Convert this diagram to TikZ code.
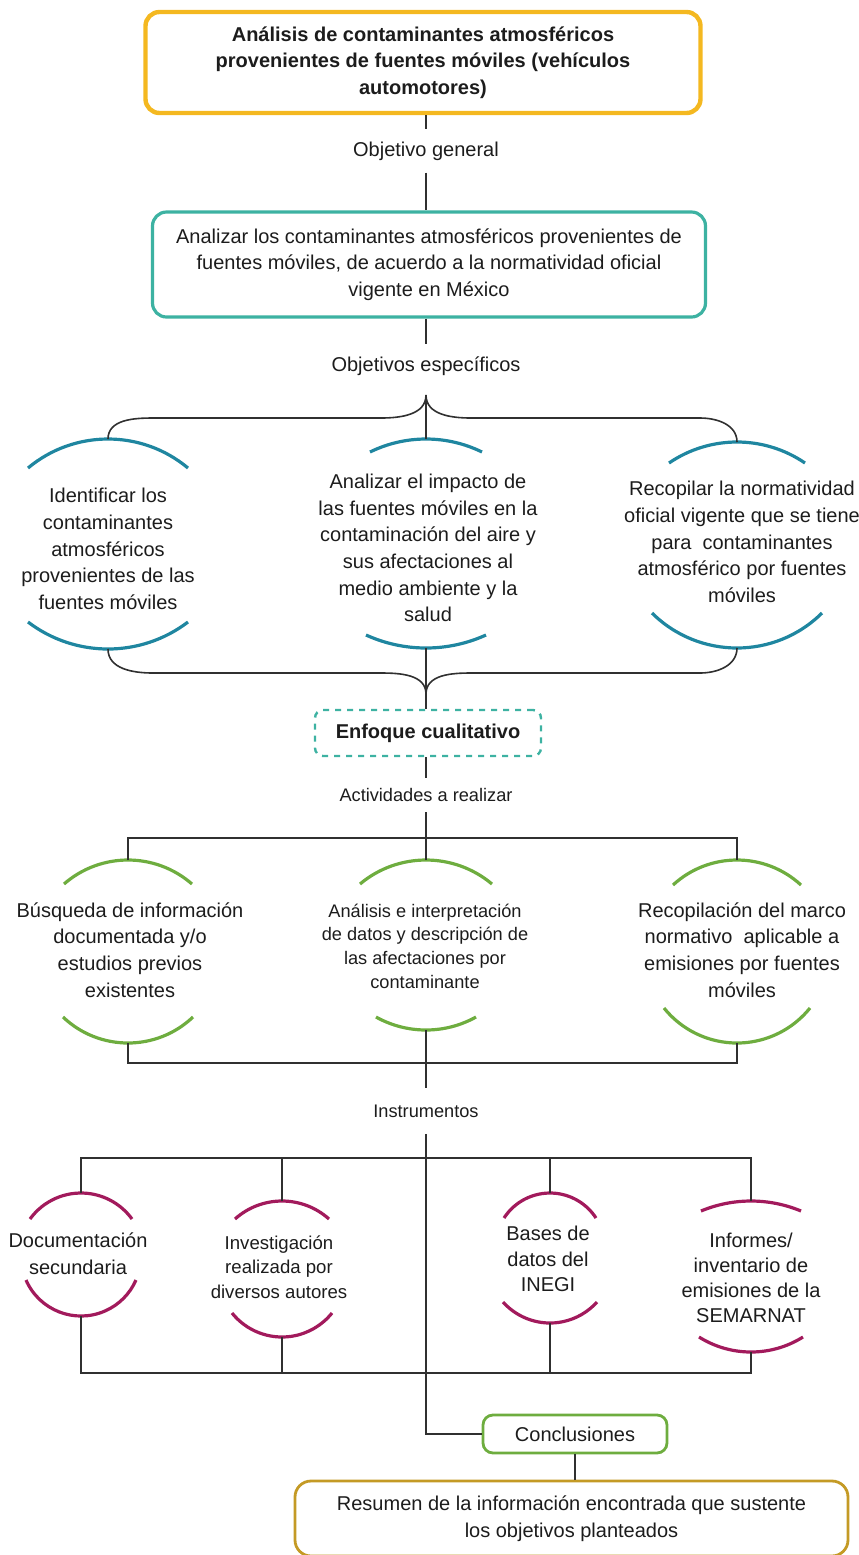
\documentclass[tikz,border=0pt]{standalone}
\usepackage{fontspec}
\setmainfont{Liberation Sans}
\usepackage{xcolor}
\definecolor{oro}{HTML}{F4B820}
\definecolor{turquesa}{HTML}{3DB2A2}
\definecolor{azul}{HTML}{1F86A0}
\definecolor{verde}{HTML}{6EAD3F}
\definecolor{vino}{HTML}{A21A5C}
\definecolor{ocre}{HTML}{C49A25}
\definecolor{tinta}{HTML}{1C1C1C}
\definecolor{linea}{HTML}{303030}

% arco de circulo: estilo, punto medio, semicuerda, flecha (negativa = arco de abajo)
\newcommand{\arco}[4]{%
  \pgfmathsetmacro{\radioarco}{((#3)^2+(#4)^2)/(2*abs(#4))}%
  \pgfmathsetmacro{\angarco}{asin((#3)/\radioarco)}%
  \pgfmathsetmacro{\iniarco}{(#4>0) ? 90+\angarco : 270-\angarco}%
  \pgfmathsetmacro{\finarco}{(#4>0) ? 90-\angarco : 270+\angarco}%
  \draw[#1] (#2) ++({-(#3)},{-(#4)}) arc[start angle=\iniarco, end angle=\finarco, radius=\radioarco];}

\begin{document}
\begin{tikzpicture}[x=0.5pt, y=0.5pt,
  caja/.style={draw, rounded corners=7pt, align=center, text=tinta, font=\fontsize{10}{13.3}\selectfont},
  etiqueta/.style={align=center, text=tinta, inner xsep=2pt, inner ysep=6pt, font=\fontsize{10}{13.3}\selectfont},
  lente/.style={align=center, text=tinta, inner sep=0pt, font=\fontsize{10}{13.3}\selectfont},
  chico/.style={font=\fontsize{9.1}{11.8}\selectfont},
  conector/.style={draw=linea, line width=0.8pt},
  arcoazul/.style={azul, line width=1.6pt},
  arcoverde/.style={verde, line width=1.6pt},
  arcovino/.style={vino, line width=1.6pt}]
\useasboundingbox (0,0) rectangle (858,-1555);

\node[caja, draw=oro, line width=2.2pt, minimum width=277.5pt, minimum height=50.5pt,
  font=\fontsize{10}{13.3}\selectfont\bfseries] (titulo) at (423,-62.5)
  {Análisis de contaminantes atmosféricos\\provenientes de fuentes móviles (vehículos\\automotores)};
\node[etiqueta] (ogen) at (426,-151) {Objetivo general};
\node[caja, draw=turquesa, line width=1.6pt, minimum width=276.5pt, minimum height=52.5pt] (general) at (429,-264.5)
  {Analizar los contaminantes atmosféricos provenientes de\\fuentes móviles, de acuerdo a la normatividad oficial\\vigente en México};
\node[etiqueta] (oesp) at (426,-366) {Objetivos específicos};
\draw[conector] (ogen |- titulo.south) -- (ogen.north);
\draw[conector] (ogen.south) -- (ogen |- general.north);
\draw[conector] (oesp |- general.south) -- (oesp.north);

% objetivos especificos
\node[lente] (e1) at (108,-549) {Identificar los\\contaminantes\\atmosféricos\\provenientes de las\\fuentes móviles};
\node[lente] (e2) at (428,-548) {Analizar el impacto de\\las fuentes móviles en la\\contaminación del aire y\\sus afectaciones al\\medio ambiente y la\\salud};
\node[lente] (e3) at (742,-542) {Recopilar la normatividad\\oficial vigente que se tiene\\para\ \ contaminantes\\atmosférico por fuentes\\móviles};
\coordinate (e1t) at (108,-439); \coordinate (e1b) at (108,-649);
\coordinate (e2t) at (426,-439); \coordinate (e2b) at (426,-648);
\coordinate (e3t) at (737,-442); \coordinate (e3b) at (737,-648);
\arco{arcoazul}{e1t}{80}{29}
\arco{arcoazul}{e1b}{80}{-27}
\arco{arcoazul}{e2t}{56}{13}
\arco{arcoazul}{e2b}{60}{-13}
\arco{arcoazul}{e3t}{68}{21}
\arco{arcoazul}{e3b}{85}{-35}
\coordinate (llave1) at (426,-395);
\coordinate (llave2) at (426,-694);
\draw[conector] (llave1) to[out=-90,in=0] (381,-418) -- (153,-418) to[out=180,in=90] (e1t);
\draw[conector] (llave1) to[out=-90,in=180] (471,-418) -- (700,-418) to[out=0,in=90] (e3t);
\draw[conector] (llave1) -- (e2t);
\draw[conector] (e1b) to[out=-90,in=180] (153,-673) -- (381,-673) to[out=0,in=90] (llave2);
\draw[conector] (e3b) to[out=-90,in=0] (700,-673) -- (471,-673) to[out=180,in=90] (llave2);

\node[caja, draw=turquesa, dashed, line width=1.2pt, rounded corners=4pt, minimum width=113pt, minimum height=23pt,
  font=\fontsize{10}{13.3}\selectfont\bfseries] (enfoque) at (428,-733) {Enfoque cualitativo};
\draw[conector] (e2b) -- (llave2) -- (llave2 |- enfoque.north);
\node[etiqueta, chico, inner ysep=5pt] (act) at (426,-795) {Actividades a realizar};
\draw[conector] (act |- enfoque.south) -- (act.north);

% actividades
\node[lente] (a1) at (130,-950) {Búsqueda de información\\documentada y/o\\estudios previos\\existentes};
\node[lente, chico] (a2) at (425,-946) {Análisis e interpretación\\de datos y descripción de\\las afectaciones por\\contaminante};
\node[lente] (a3) at (742,-950) {Recopilación del marco\\normativo\ \ aplicable a\\emisiones por fuentes\\móviles};
\coordinate (a1t) at (128,-860); \coordinate (a1b) at (128,-1043);
\coordinate (a2t) at (426,-860); \coordinate (a2b) at (426,-1030);
\coordinate (a3t) at (737,-860); \coordinate (a3b) at (737,-1043);
\arco{arcoverde}{a1t}{64}{24}
\arco{arcoverde}{a1b}{65}{-26}
\arco{arcoverde}{a2t}{66}{24}
\arco{arcoverde}{a2b}{50}{-13}
\arco{arcoverde}{a3t}{64}{25}
\arco{arcoverde}{a3b}{73}{-35}
\draw[conector] (a1t) -- ++(0,22) -| (a3t);
\draw[conector] (act.south) -- (a2t);
\draw[conector] (a1b) -- ++(0,-20) -| (a3b);
\node[etiqueta, chico, inner ysep=8pt] (instr) at (426,-1111) {Instrumentos};
\draw[conector] (a2b) -- (instr.north);

% instrumentos
\node[lente] (i1) at (78,-1254) {Documentación\\secundaria};
\node[lente, font=\fontsize{9.3}{12.3}\selectfont] (i2) at (279,-1267) {Investigación\\realizada por\\diversos autores};
\node[lente, font=\fontsize{10}{12.8}\selectfont] (i3) at (548,-1259) {Bases de\\datos del\\INEGI};
\node[lente, font=\fontsize{10}{12.4}\selectfont] (i4) at (751,-1278) {Informes/\\inventario de\\emisiones de la\\SEMARNAT};
\coordinate (i1t) at (81,-1193); \coordinate (i1b) at (81,-1316);
\coordinate (i2t) at (282,-1201); \coordinate (i2b) at (282,-1337);
\coordinate (i3t) at (550,-1193); \coordinate (i3b) at (550,-1323);
\coordinate (i4t) at (751,-1201); \coordinate (i4b) at (751,-1352);
\arco{arcovino}{i1t}{51}{26}
\arco{arcovino}{i1b}{55}{-36}
\arco{arcovino}{i2t}{47}{18}
\arco{arcovino}{i2b}{50}{-24}
\arco{arcovino}{i3t}{46}{25}
\arco{arcovino}{i3b}{47}{-21}
\arco{arcovino}{i4t}{50}{10}
\arco{arcovino}{i4b}{52}{-15}
\coordinate (fila1) at (0,-1158);
\coordinate (fila2) at (0,-1373);
\draw[conector] (i1t) -- (i1t |- fila1) -- (i4t |- fila1) -- (i4t);
\draw[conector] (i2t) -- (i2t |- fila1);
\draw[conector] (i3t) -- (i3t |- fila1);
\draw[conector] (i1b) -- (i1b |- fila2) -- (i4b |- fila2) -- (i4b);
\draw[conector] (i2b) -- (i2b |- fila2);
\draw[conector] (i3b) -- (i3b |- fila2);

\node[caja, draw=verde, line width=1.4pt, rounded corners=5pt, minimum width=92pt, minimum height=19pt] (concl) at (575,-1434) {Conclusiones};
\draw[conector] (instr.south) |- (concl.west);
\node[caja, draw=ocre, line width=1.4pt, rounded corners=8pt, minimum width=276.5pt, minimum height=37.5pt] (resumen) at (571.5,-1518.5)
  {Resumen de la información encontrada que sustente\\los objetivos planteados};
\draw[conector] (concl.south) -- (concl.south |- resumen.north);
\end{tikzpicture}
\end{document}
